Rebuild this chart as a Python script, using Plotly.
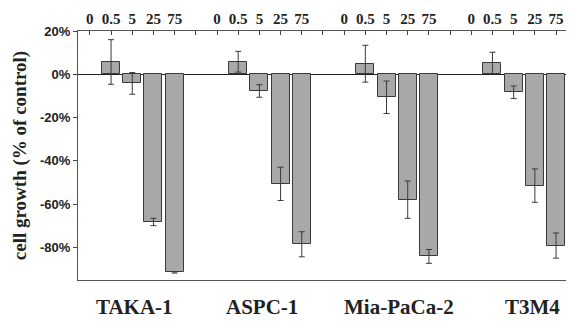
import plotly.graph_objects as go

cell_lines = ["TAKA-1", "ASPC-1", "Mia-PaCa-2", "T3M4"]
doses = ["0", "0.5", "5", "25", "75"]
# cell growth (% of control) per dose, per cell line (dose 0 = control, no bar)
growth = {
    "TAKA-1":     [None, 5.7, -4.2, -68.2, -91.5],
    "ASPC-1":     [None, 5.8, -7.7, -50.6, -78.5],
    "Mia-PaCa-2": [None, 4.9, -10.6, -57.9, -84.1],
    "T3M4":       [None, 5.2, -8.3, -51.4, -79.1],
}
errors = {
    "TAKA-1":     [0, 10.3, 5.0, 1.7, 0.3],
    "ASPC-1":     [0, 4.8, 2.9, 7.7, 5.8],
    "Mia-PaCa-2": [0, 8.5, 7.5, 8.6, 3.2],
    "T3M4":       [0, 5.0, 2.9, 7.7, 5.8],
}
y_ticks = [20, 0, -20, -40, -60, -80]

slots_per_group = len(doses) + 1
xs, ys, es = [], [], []
tickvals, ticktext = [], []
for g, name in enumerate(cell_lines):
    for i, d in enumerate(doses):
        pos = g * slots_per_group + i
        xs.append(pos)
        ys.append(growth[name][i])
        es.append(errors[name][i])
        tickvals.append(pos)
        ticktext.append("<b>%s</b>" % d)
    tickvals.append(g * slots_per_group + len(doses))
    ticktext.append("")

fig = go.Figure()
fig.add_trace(go.Bar(
    x=xs, y=ys, width=0.85,
    marker=dict(color="#a8a8a8", line=dict(color="#3a3a3a", width=1)),
    error_y=dict(type="data", array=es, visible=True, color="#3a3a3a", thickness=1, width=3),
    showlegend=False,
))

label_pos = [2.1, 8.1, 14.6, 20.9]
for name, xp in zip(cell_lines, label_pos):
    fig.add_annotation(x=xp, y=0, xref="x", yref="paper", yshift=-27, text="<b>%s</b>" % name,
                       showarrow=False, yanchor="middle",
                       font=dict(family="Liberation Serif", size=21, color="#222"))

# page body has an 8px margin, so the figure is 8px smaller and margins shifted
fig.update_layout(
    width=566, height=314,
    margin=dict(l=70, r=1, t=23, b=42),
    paper_bgcolor="white", plot_bgcolor="white",
    bargap=0,
    xaxis=dict(side="top", range=[-0.56, 22.8], tickvals=tickvals, ticktext=ticktext,
               automargin=False,
               ticks="inside", ticklen=4, tickcolor="#444", showline=True, linecolor="#555",
               linewidth=1, mirror=True, showgrid=False, zeroline=False,
               tickfont=dict(family="Liberation Serif", size=15, color="#222")),
    yaxis=dict(range=[-95, 20], tickvals=y_ticks,
               ticktext=["<b>%d%%</b>" % v for v in y_ticks],
               automargin=False,
               ticks="outside", ticklen=4, tickcolor="#444", showline=True, linecolor="#555",
               linewidth=1, showgrid=False, zeroline=True, zerolinecolor="#222", zerolinewidth=1,
               tickfont=dict(family="Liberation Sans", size=13, color="#222"),
               title=dict(text="<b>cell growth (% of control)</b>", standoff=8,
                          font=dict(family="Liberation Serif", size=19, color="#222"))),
)

fig.write_html("out.html")
